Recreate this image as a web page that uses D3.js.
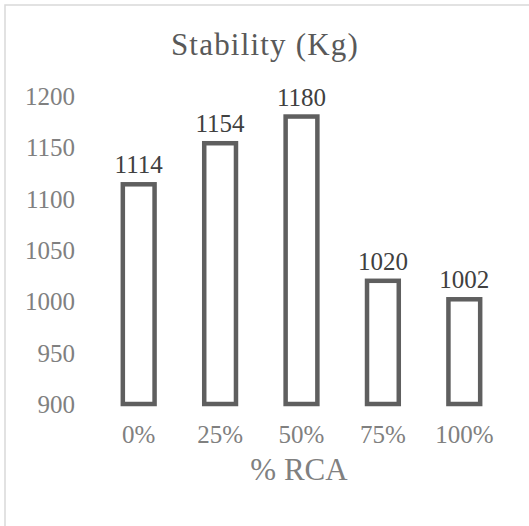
<!DOCTYPE html>
<html>
<head>
<meta charset="utf-8">
<script src="https://cdn.jsdelivr.net/npm/d3@7"></script>
<style>
  body { margin: 0; background: #fff; }
  svg, svg text { font-family: "Times New Roman", "Liberation Serif", Times, "DejaVu Serif", serif !important; }
</style>
</head>
<body>
<svg></svg>
<script>
let categories = ['0%', '25%', '50%', '75%', '100%']
let values = [1114, 1154, 1180, 1020, 1002]
let yTicks = [900, 950, 1000, 1050, 1100, 1150, 1200]

let width = 529
let height = 526

let svg = d3.select('svg').attr('width', width).attr('height', height)

// chart frame (right/bottom fall outside the window)
svg.append('rect')
  .attr('x', 5).attr('y', 5)
  .attr('width', 540).attr('height', 540)
  .attr('fill', '#fff')
  .attr('stroke', '#d9d9d9')
  .attr('stroke-width', 1.5)

let xScale = d3.scaleBand()
  .domain(categories)
  .range([98, 505])
  .paddingInner(0.61)
  .paddingOuter(0.305)

let yScale = d3.scaleLinear()
  .domain([900, 1200])
  .range([404, 96])

// title
svg.append('text')
  .attr('x', 265).attr('y', 55)
  .attr('text-anchor', 'middle')
  .attr('font-size', 31)
  .attr('letter-spacing', 1.2)
  .attr('fill', '#595959')
  .text('Stability (Kg)')

// y axis (labels only)
let yAxis = d3.axisLeft(yScale).tickValues(yTicks).tickFormat(d3.format('d')).tickSize(0).tickPadding(0)
let gy = svg.append('g')
  .attr('transform', 'translate(75,0)')
  .call(yAxis)
gy.attr('font-family', null)
gy.select('.domain').remove()
gy.selectAll('text')
  .attr('font-size', 25)
  .attr('fill', '#808080')
  .attr('dy', '0.34em')

// x axis (labels only)
let xAxis = d3.axisBottom(xScale).tickSize(0).tickPadding(0)
let gx = svg.append('g')
  .attr('transform', 'translate(0,443)')
  .call(xAxis)
gx.attr('font-family', null)
gx.select('.domain').remove()
gx.selectAll('text')
  .attr('font-size', 25)
  .attr('fill', '#808080')
  .attr('dy', 0)

// bars
svg.selectAll('rect.bar')
  .data(values)
  .enter()
  .append('rect')
  .attr('class', 'bar')
  .attr('x', (d, i) => xScale(categories[i]))
  .attr('width', xScale.bandwidth())
  .attr('y', d => yScale(d))
  .attr('height', d => yScale(900) - yScale(d))
  .attr('fill', '#fff')
  .attr('stroke', '#5f5f5f')
  .attr('stroke-width', 4.5)

// data labels
svg.selectAll('text.lbl')
  .data(values)
  .enter()
  .append('text')
  .attr('class', 'lbl')
  .attr('x', (d, i) => xScale(categories[i]) + xScale.bandwidth() / 2)
  .attr('y', d => yScale(d) - 11)
  .attr('text-anchor', 'middle')
  .attr('font-size', 25)
  .attr('fill', '#404040')
  .text(d => d)

// x axis title
svg.append('text')
  .attr('x', 299).attr('y', 480)
  .attr('text-anchor', 'middle')
  .attr('font-size', 31)
  .attr('fill', '#808080')
  .text('% RCA')
</script>
</body>
</html>
